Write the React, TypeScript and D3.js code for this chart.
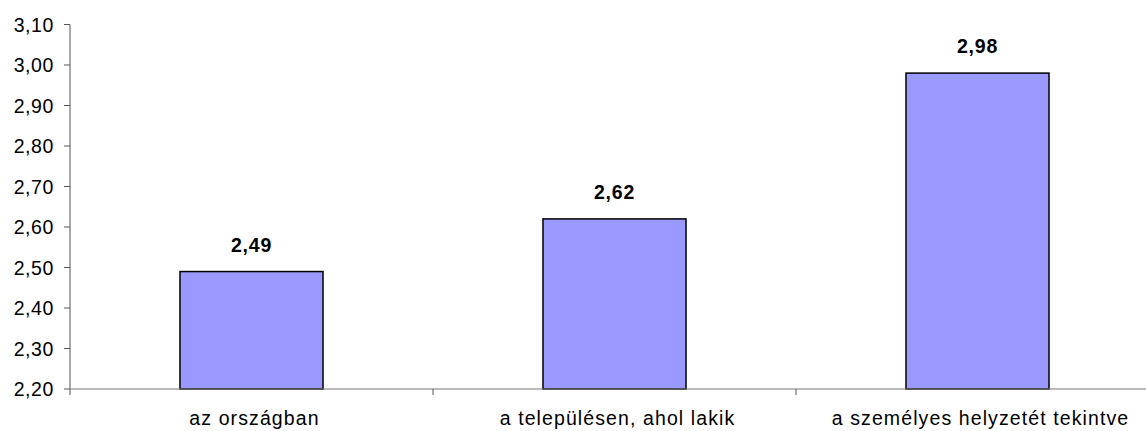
import React from "react";
import * as d3 from "d3";

const categories = ["az országban", "a településen, ahol lakik", "a személyes helyzetét tekintve"];
const values = [2.49, 2.62, 2.98];
const yTicks = [2.2, 2.3, 2.4, 2.5, 2.6, 2.7, 2.8, 2.9, 3.0, 3.1];

const W = 1146, H = 431;
const left = 70, right = 1159, top = 24.5, bottom = 389;

export default function App() {
  const x = d3.scaleBand<string>().domain(categories).range([left, right]).padding(0);
  const y = d3.scaleLinear().domain([2.2, 3.1]).range([bottom, top]);
  const bw = x.bandwidth() * 0.394;
  const fmt = (v: number) => v.toFixed(2).replace(".", ",");
  const font = "Liberation Sans, Arial, sans-serif";
  return (
    <svg width={W} height={H} style={{ position: "absolute", left: 0, top: 0, background: "#fff" }}>
      {categories.map((c, i) => {
        const cx = x(c)! + x.bandwidth() / 2;
        return (
          <g key={c}>
            <rect x={cx - bw / 2} y={y(values[i])} width={bw} height={bottom - y(values[i])} fill="#9999FF" stroke="#000" strokeWidth={1.5} />
            <text x={cx} y={y(values[i]) - 20} textAnchor="middle" fontFamily={font} fontWeight="bold" fontSize={19.5} letterSpacing={0.8}>{fmt(values[i])}</text>
            <text x={cx + 3} y={425} textAnchor="middle" fontFamily={font} fontSize={19.5} letterSpacing={1.1}>{c}</text>
          </g>
        );
      })}
      <line x1={left} x2={left} y1={top} y2={bottom + 6} stroke="#555" />
      <line x1={left} x2={W} y1={bottom} y2={bottom} stroke="#777" />
      {categories.slice(1).map((c) => (
        <line key={c} x1={x(c)!} x2={x(c)!} y1={bottom} y2={bottom + 6} stroke="#555" />
      ))}
      {yTicks.map((t) => (
        <g key={t}>
          <line x1={left - 6} x2={left} y1={y(t)} y2={y(t)} stroke="#555" />
          <text x={54} y={y(t) + 7} textAnchor="end" fontFamily={font} fontSize={19.5} letterSpacing={0.6}>{fmt(t)}</text>
        </g>
      ))}
    </svg>
  );
}
